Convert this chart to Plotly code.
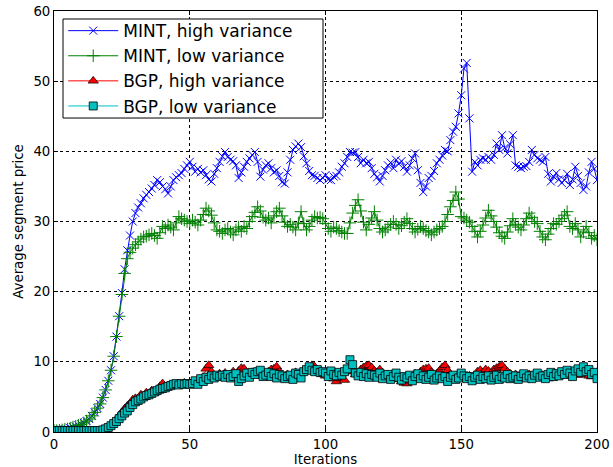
import plotly.graph_objects as go

iterations = list(range(201))

mint_high = [
    0.2, 0.2, 0.25, 0.3, 0.4, 0.45, 0.55, 0.7, 0.8, 0.95,
    1.1, 1.3, 1.55, 1.85, 2.3, 2.8, 3.4, 4.0, 4.9, 6.0,
    7.3, 8.8, 10.8, 13.6, 16.5, 19.8, 23.2, 25.9, 28.0, 30.0,
    31.2, 32.0, 32.6, 33.3, 33.8, 34.2, 34.7, 35.2, 35.9, 35.6,
    35.0, 34.6, 34.0, 35.0, 35.9, 36.3, 36.6, 36.9, 37.5, 38.0,
    38.5, 37.8, 37.1, 37.5, 37.0, 37.3, 36.6, 36.0, 35.7, 36.8,
    37.6, 38.5, 39.3, 39.9, 39.2, 38.8, 38.6, 38.0, 36.2, 37.0,
    37.8, 38.5, 39.0, 39.5, 39.9, 38.5, 36.4, 37.4, 38.0, 38.3,
    37.6, 37.0, 37.3, 36.5, 35.6, 35.4, 37.0, 38.8, 40.2, 40.7,
    41.1, 40.6, 39.3, 38.3, 37.2, 36.6, 36.5, 36.2, 35.9, 36.2,
    36.6, 36.0, 35.9, 36.4, 36.5, 37.0, 37.8, 38.3, 39.2, 39.9,
    39.8, 39.9, 39.2, 38.3, 38.8, 38.3, 38.5, 37.6, 36.8, 36.3,
    35.7, 36.5, 37.3, 38.0, 38.4, 37.6, 38.8, 38.2, 38.6, 37.8,
    37.1, 38.0, 39.0, 39.7, 37.3, 35.5, 34.2, 35.0, 36.2, 36.5,
    37.2, 38.3, 38.8, 39.4, 40.2, 40.0, 41.6, 42.8, 43.5, 45.4,
    48.0, 51.8, 52.6, 44.7, 37.1, 38.5, 38.0, 38.8, 39.0, 38.8,
    39.2, 38.8, 39.5, 41.1, 40.2, 42.3, 40.5, 39.7, 41.0, 42.3,
    38.0, 37.8, 37.6, 37.8, 37.9, 38.5, 40.2, 39.5, 39.0, 38.8,
    38.5, 39.2, 36.8, 35.7, 36.4, 36.9, 36.0, 35.5, 35.9, 36.8,
    35.2, 36.0, 37.8, 36.5, 35.5, 34.5, 35.0, 37.0, 38.5, 37.5,
    35.9,
]

mint_low = [
    0.2, 0.2, 0.25, 0.3, 0.4, 0.45, 0.55, 0.7, 0.8, 0.95,
    1.1, 1.3, 1.55, 1.85, 2.3, 2.8, 3.4, 4.0, 4.9, 6.0,
    7.3, 8.8, 10.8, 13.6, 16.5, 19.6, 22.6, 24.7, 25.6, 26.2,
    26.7, 27.1, 27.5, 27.8, 27.9, 28.1, 28.3, 28.0, 27.6, 28.4,
    29.3, 29.0, 29.5, 29.2, 28.8, 29.8, 30.7, 30.4, 30.2, 30.0,
    29.7, 30.2, 29.9, 29.5, 30.2, 31.0, 31.9, 31.5, 30.9, 29.8,
    28.8, 28.6, 28.3, 28.8, 29.0, 28.5, 28.1, 28.8, 29.2, 28.6,
    29.3, 29.0, 30.0, 30.7, 31.3, 32.1, 31.5, 30.6, 30.2, 30.5,
    29.8, 30.8, 31.4, 31.9, 30.8, 29.9, 29.3, 29.6, 29.2, 28.8,
    29.8, 31.4, 29.7, 28.8, 29.3, 30.2, 30.7, 30.5, 30.6, 30.4,
    29.7, 29.0, 28.6, 29.2, 29.0, 28.7, 28.5, 28.3, 28.3, 29.8,
    31.2, 32.3, 33.1, 31.5, 29.9, 28.8, 29.6, 30.5, 31.4, 30.2,
    29.0, 28.5, 28.8, 29.2, 29.6, 30.0, 29.6, 29.0, 29.4, 29.9,
    30.4, 29.7, 29.0, 28.5, 28.9, 29.3, 29.0, 28.7, 28.5, 28.1,
    28.5, 28.8, 29.0, 29.3, 30.0, 31.0, 32.1, 33.0, 34.2, 33.2,
    30.7, 30.5, 30.2, 29.9, 29.3, 28.6, 27.8, 28.6, 29.5, 30.5,
    31.6, 30.8, 30.0, 29.2, 28.4, 27.9, 27.6, 28.5, 29.4, 30.4,
    29.6, 29.2, 28.8, 29.5, 30.4, 31.2, 30.6, 30.0, 29.7, 28.6,
    27.8, 27.4, 28.2, 29.0, 29.7, 29.6, 30.0, 30.4, 30.9, 31.4,
    29.3, 29.0, 29.7, 28.8, 27.8, 28.5, 29.3, 28.4, 27.6, 28.0,
    27.4,
]

bgp_high = [
    0.2, 0.2, 0.2, 0.2, 0.2, 0.2, 0.2, 0.2, 0.2, 0.2,
    0.2, 0.2, 0.2, 0.2, 0.2, 0.2, 0.2, 0.2, 0.3, 0.5,
    0.7, 1.0, 1.4, 1.8, 2.3, 2.8, 3.3, 3.7, 4.0, 4.6,
    4.8, 4.7, 5.3, 5.0, 5.6, 5.4, 5.9, 5.6, 6.0, 6.5,
    6.9, 6.4, 6.6, 6.7, 6.6, 6.8, 6.9, 6.7, 7.0, 6.8,
    6.9, 7.0, 6.8, 7.1, 7.2, 7.8, 9.0, 9.5, 8.6, 8.0,
    7.9, 8.3, 8.1, 8.4, 8.0, 8.2, 8.6, 8.1, 8.7, 9.1,
    9.0, 8.3, 8.0, 8.5, 8.3, 8.1, 8.4, 8.0, 7.8, 8.6,
    8.9, 9.0, 9.3, 8.6, 8.0, 7.9, 8.2, 7.7, 8.3, 8.5,
    8.0, 8.4, 8.7, 8.9, 9.2, 9.5, 9.3, 8.7, 8.4, 8.2,
    8.0, 8.3, 7.8, 7.6, 7.2, 7.7, 7.6, 7.4, 8.6, 9.1,
    8.8, 8.2, 8.4, 8.9, 9.2, 9.4, 9.5, 9.2, 8.7, 8.5,
    8.9, 8.4, 8.0, 8.2, 7.9, 8.1, 7.8, 7.5, 7.2, 7.0,
    6.9, 7.3, 7.9, 8.3, 8.1, 8.6, 8.9, 9.0, 9.1, 8.5,
    8.0, 8.3, 8.7, 9.2, 9.5, 8.8, 8.1, 7.8, 7.9, 8.2,
    7.9, 7.6, 7.8, 8.0, 7.7, 7.9, 8.6, 8.8, 8.5, 8.9,
    8.7, 8.4, 8.9, 9.1, 9.3, 9.5, 9.0, 8.6, 8.3, 8.0,
    8.2, 7.9, 8.1, 7.8, 8.0, 8.2, 7.9, 7.7, 8.0, 7.8,
    8.1, 7.9, 7.6, 7.8, 8.1, 8.3, 8.0, 8.2, 8.4, 8.0,
    8.3, 8.6, 8.4, 8.1, 8.7, 8.9, 8.3, 8.0, 7.9, 8.2,
    8.5,
]

bgp_low = [
    0.2, 0.2, 0.2, 0.2, 0.2, 0.2, 0.2, 0.2, 0.2, 0.2,
    0.2, 0.2, 0.2, 0.2, 0.2, 0.2, 0.2, 0.2, 0.3, 0.45,
    0.65, 0.9, 1.2, 1.5, 1.9, 2.3, 2.7, 3.0, 3.5, 3.9,
    4.3, 4.5, 4.7, 5.0, 5.2, 5.3, 5.5, 5.7, 5.9, 6.1,
    6.2, 6.3, 6.5, 6.6, 6.8, 6.9, 6.7, 6.9, 6.8, 6.9,
    6.8, 6.9, 7.3, 6.8, 7.6, 7.2, 7.8, 7.5, 8.0, 7.7,
    8.1, 7.9, 8.1, 7.8, 8.2, 7.7, 7.9, 8.3, 7.2, 7.6,
    8.0, 8.4, 7.8, 8.5, 8.2, 8.6, 8.8, 7.9, 8.1, 8.5,
    7.9, 8.3, 7.7, 8.2, 8.0, 7.6, 7.9, 8.1, 7.5, 8.4,
    8.2, 7.7, 8.6, 8.9, 9.3, 8.8, 8.6, 8.9, 8.5, 8.6,
    8.4, 7.9, 8.7, 8.2, 8.0, 8.5, 8.1, 8.6, 9.0, 10.3,
    9.6, 8.4, 8.0, 8.5, 7.9, 8.3, 7.8, 8.2, 8.1, 7.8,
    8.4, 7.6, 8.0, 8.2, 7.5, 7.9, 8.4, 7.8, 7.4, 7.9,
    7.7, 8.1, 7.3, 7.9, 8.3, 7.6, 8.0, 7.5, 7.8, 8.2,
    7.4, 7.7, 8.0, 7.6, 7.9, 7.2, 7.8, 8.1, 7.5, 7.7,
    8.4, 8.0, 7.6, 7.9, 7.3, 7.8, 8.1, 7.5, 7.9, 7.6,
    8.0, 7.4, 7.8, 8.1, 7.5, 7.9, 7.7, 8.2, 7.6, 7.8,
    8.0, 7.5, 7.9, 8.3, 7.7, 8.0, 7.6, 8.1, 8.4, 7.8,
    8.0, 7.6, 8.2, 8.5, 7.9, 8.3, 8.0, 8.6, 8.2, 8.8,
    8.4, 7.9, 8.7, 9.0, 8.5, 9.3, 8.6, 8.9, 8.2, 8.5,
    7.6,
]

series_names = ["MINT, high variance", "MINT, low variance",
                "BGP, high variance", "BGP, low variance"]

x_ticks = [0, 50, 100, 150, 200]
y_ticks = [0, 10, 20, 30, 40, 50, 60]

fig = go.Figure()

fig.add_trace(go.Scatter(
    x=iterations, y=mint_high, name=series_names[0], mode="lines+markers",
    line=dict(color="#0000ff", width=1),
    marker=dict(symbol="x-thin-open", size=8, color="#0000ff",
                line=dict(color="#0000ff", width=1)),
))
fig.add_trace(go.Scatter(
    x=iterations, y=mint_low, name=series_names[1], mode="lines+markers",
    line=dict(color="#008000", width=1),
    marker=dict(symbol="cross-thin-open", size=9, color="#008000",
                line=dict(color="#008000", width=1)),
))
fig.add_trace(go.Scatter(
    x=iterations, y=bgp_high, name=series_names[2], mode="lines+markers",
    line=dict(color="#ff0000", width=1),
    marker=dict(symbol="triangle-up", size=9, color="#ff0000",
                line=dict(color="black", width=0.7)),
))
fig.add_trace(go.Scatter(
    x=iterations, y=bgp_low, name=series_names[3], mode="lines+markers",
    line=dict(color="#00bfbf", width=1),
    marker=dict(symbol="square", size=8, color="#00bfbf",
                line=dict(color="black", width=0.8)),
))

axis_common = dict(
    showline=True, linecolor="black", linewidth=1, mirror="allticks",
    ticks="inside", ticklen=4, tickcolor="black", tickwidth=1,
    showgrid=True, gridcolor="black", gridwidth=0.6, griddash="dot",
    zeroline=False, automargin=False,
    tickfont=dict(family="DejaVu Sans", size=13.3, color="black"),
)

fig.update_xaxes(range=[0, 200], tickvals=x_ticks,
                 title=dict(text="Iterations", font=dict(family="DejaVu Sans", size=13.3, color="black"), standoff=3),
                 **axis_common)
fig.update_yaxes(range=[0, 60], tickvals=y_ticks,
                 title=dict(text="Average segment price", font=dict(family="DejaVu Sans", size=13.3, color="black"), standoff=6),
                 **axis_common)

# legend frame (matplotlib-style box with extra right padding)
fig.add_shape(type="rect", xref="paper", yref="paper",
              x0=0.0166, x1=0.4954, y0=0.7458, y1=0.981,
              line=dict(color="black", width=1), fillcolor="white", layer="above")

fig.update_layout(
    width=613, height=467,
    margin=dict(l=54, r=16, t=11, b=35),
    plot_bgcolor="white", paper_bgcolor="white",
    font=dict(family="DejaVu Sans", color="black"),
    legend=dict(
        x=0.017, y=0.995, xanchor="left", yanchor="top",
        bgcolor="rgba(0,0,0,0)", borderwidth=0,
        font=dict(family="DejaVu Sans", size=17, color="black"),
        itemwidth=50, tracegroupgap=0,
    ),
)

fig.write_html("out.html")
